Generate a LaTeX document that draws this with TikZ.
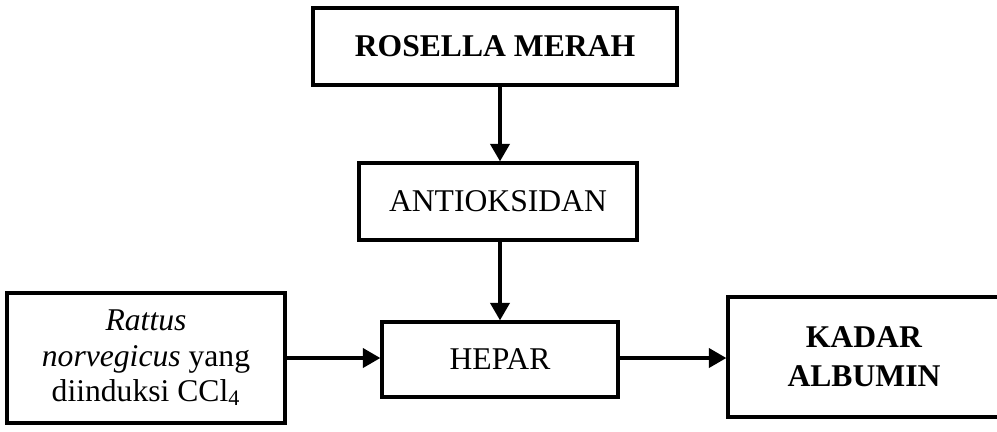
\documentclass[tikz,border=0pt]{standalone}
\usepackage{fontspec}
\setmainfont{Liberation Serif}
\usetikzlibrary{arrows.meta}

\tikzset{every picture/.style={line width=1.9pt}}
\tikzset{
    flowbox/.style={draw, rectangle, align=center, inner sep=2pt, font=\fontsize{18}{21}\selectfont},
    flowarrow/.style={-{Triangle[length=10pt,width=11pt]}}
}

\begin{document}
\begin{tikzpicture}
    \useasboundingbox (0,0) rectangle (19.94,-8.62);
    \node[flowbox, minimum width=7.28cm, minimum height=1.54cm] (rosella) at (9.9,-0.93) {\textbf{ROSELLA MERAH}};
    \node[flowbox, minimum width=5.56cm, minimum height=1.54cm] (antiox) at (9.96,-4.03) {ANTIOKSIDAN};
    \node[flowbox, minimum width=4.72cm, minimum height=1.5cm] (hepar) at (10.0,-7.19) {HEPAR};
    \node[flowbox, minimum width=5.56cm, minimum height=2.6cm, font=\fontsize{18}{20}\selectfont] (rattus) at (2.92,-7.16) {\textit{Rattus}\\ \textit{norvegicus} yang\\ diinduksi CCl\textsubscript{4}};
    \node[flowbox, minimum width=5.44cm, minimum height=2.4cm, font=\fontsize{18}{22}\selectfont] (albumin) at (17.28,-7.14) {\textbf{KADAR}\\ \textbf{ALBUMIN}};
    \draw[flowarrow] (rosella.south -| 10,0) -- (antiox.north -| 10,0);
    \draw[flowarrow] (antiox.south -| 10,0) -- (hepar.north -| 10,0);
    \draw[flowarrow] (rattus.east |- 0,-7.16) -- (hepar.west |- 0,-7.16);
    \draw[flowarrow] (hepar.east |- 0,-7.16) -- (albumin.west |- 0,-7.16);
\end{tikzpicture}
\end{document}
